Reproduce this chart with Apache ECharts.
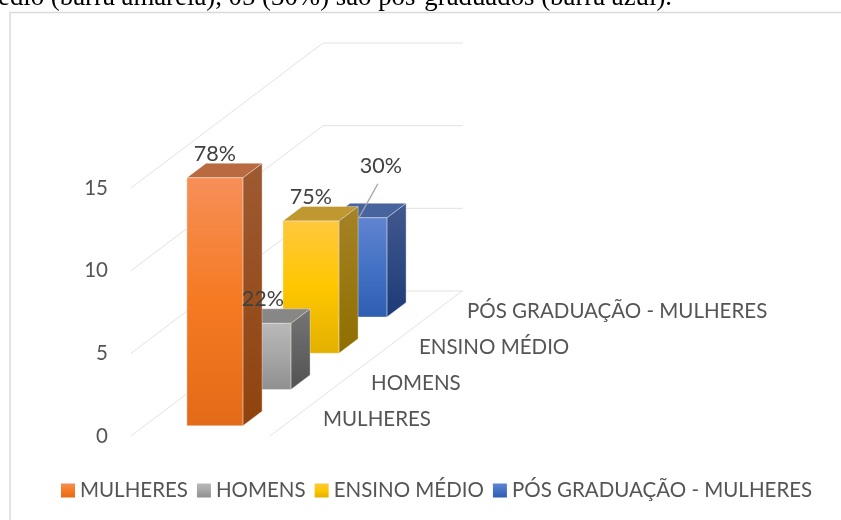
<!DOCTYPE html>
<html>
<head>
<meta charset="utf-8">
<style>html,body{margin:0;padding:0;background:#fff}#c{width:841px;height:520px}</style>
<script src="https://cdn.jsdelivr.net/npm/echarts@6/dist/echarts.min.js"></script>
</head>
<body>
<div id="c"></div>
<script>
const categories = ['MULHERES', 'HOMENS', 'ENSINO MÉDIO', 'PÓS GRADUAÇÃO - MULHERES'];
const barValues = [15, 4, 8, 6];
const barLabels = ['78%', '22%', '75%', '30%'];
const valueTicks = [0, 5, 10, 15];
const caption = 'edio (barra amarela), 05 (30%) são pós-graduados (barra azul).';

const frontStops = [
  ['#F68F58', '#F57A22', '#E36A18'],
  ['#B9B9B9', '#A6A6A6', '#8F8F8F'],
  ['#FFC83E', '#FFC700', '#E2B000'],
  ['#6184D0', '#4472C4', '#2F5DB2']
];
const sideStops = [
  ['#9E5A32', '#8F430E'],
  ['#757575', '#525252'],
  ['#A58326', '#8F6E00'],
  ['#43598F', '#1D3B78']
];
const topColors = ['#B96A41', '#878787', '#BF9832', '#47649F'];

const font = 'Lato, "Open Sans", sans-serif';
const textColor = '#555555';
const RATIO = 145 / 192;        // floor shear: vertical per horizontal depth
const ROW_W = 139;              // width of the floor along the front edge
const BAR_W = 56;
const BAR_DEPTH = 0.4;          // share of a depth band taken by a bar
const BACK_W = 140;             // length of wall lines on the back wall

function grad(stops) {
  return new echarts.graphic.LinearGradient(0, 0, 0, 1,
    stops.map((c, i) => ({ offset: i / (stops.length - 1), color: c })));
}

// Geometry of bar i: the axis gives the depth band and the value scale,
// the oblique projection shifts it back along the floor.
function barGeom(api) {
  const i = api.value(0), v = api.value(1);
  const band = api.size([1, 0])[0];
  const dy = band * RATIO;
  const p0 = api.coord([i, 0]);
  const pv = api.coord([i, v]);
  const d = band * BAR_DEPTH, dh = d * RATIO;
  const rowOffset = (ROW_W - BAR_W) / 2 - band / 2;
  const left = p0[0] + rowOffset + (band - d) / 2;
  const shiftY = dy * (i + 0.5) - dh / 2 - 0.6;
  return { i, band, dy, d, dh, left, base: p0[1] - shiftY, top: pv[1] - shiftY };
}

function renderBar(params, api) {
  const g = barGeom(api);
  const r = g.left + BAR_W;
  const edge = { stroke: 'rgba(255,255,255,0.35)', lineWidth: 1 };
  return {
    type: 'group',
    children: [
      { type: 'polygon', shape: { points: [[r, g.top], [r + g.d, g.top - g.dh], [r + g.d, g.base - g.dh], [r, g.base]] },
        style: Object.assign({ fill: grad(sideStops[g.i]) }, edge) },
      { type: 'polygon', shape: { points: [[g.left, g.top], [g.left + g.d, g.top - g.dh], [r + g.d, g.top - g.dh], [r, g.top]] },
        style: Object.assign({ fill: topColors[g.i] }, edge) },
      { type: 'rect', shape: { x: g.left, y: g.top, width: BAR_W, height: g.base - g.top },
        style: Object.assign({ fill: grad(frontStops[g.i]) }, edge) }
    ]
  };
}

function renderWall(params, api) {
  const v = api.value(0);
  const cs = params.coordSys;
  const y = api.coord([0, v])[1];
  const depthX = cs.width, depthY = cs.width * RATIO;
  const line = { stroke: '#E2E2E2', lineWidth: 1, fill: null };
  const children = [{
    type: 'polyline',
    shape: { points: [[cs.x, y], [cs.x + depthX, y - depthY], [cs.x + depthX + BACK_W, y - depthY]] },
    style: line
  }];
  if (v === 0) {
    children.push({
      type: 'line',
      shape: { x1: cs.x + ROW_W, y1: y, x2: cs.x + ROW_W + depthX, y2: y - depthY },
      style: line
    });
  }
  return { type: 'group', children };
}

function renderCategoryLabel(params, api) {
  const i = api.value(0);
  const cs = params.coordSys;
  const band = api.size([1, 0])[0];
  const y0 = api.coord([i, 0])[1];
  return {
    type: 'text',
    style: {
      text: categories[i],
      x: cs.x + ROW_W + band * (i + 0.5) + 29,
      y: y0 - band * RATIO * (i + 0.5) + 2,
      fill: textColor, font: '20.5px ' + font, align: 'left', verticalAlign: 'middle'
    }
  };
}

function renderValueLabel(params, api) {
  const g = barGeom(api);
  const cx = g.left + BAR_W / 2;
  const callout = g.i === 3;
  const x = cx + (callout ? 22 : 0);
  const y = g.top - (callout ? 52 : 24);
  const children = [{
    type: 'text',
    style: { text: barLabels[g.i], x, y, fill: '#404040', font: '21.5px ' + font, align: 'center', verticalAlign: 'middle' }
  }];
  if (callout) {
    children.push({
      type: 'line',
      shape: { x1: x - 3, y1: y + 18, x2: cx, y2: g.top },
      style: { stroke: '#A6A6A6', lineWidth: 1.4 }
    });
  }
  return { type: 'group', children };
}

const barSeries = categories.map((name, i) => ({
  type: 'custom',
  name,
  coordinateSystem: 'cartesian2d',
  z: 10 - i,
  clip: false,
  silent: true,
  itemStyle: { color: grad(frontStops[i]) },
  renderItem: renderBar,
  encode: { x: 0, y: 1 },
  data: [[i, barValues[i]]]
}));

const chart = echarts.init(document.getElementById('c'), null, { renderer: 'canvas' });
chart.setOption({
  animation: false,
  backgroundColor: '#fff',
  textStyle: { fontFamily: font },
  graphic: [
    { type: 'text', z: -3, left: -2, top: -16,
      style: { text: caption, font: '26.8px "Liberation Serif", serif', fill: '#000' } },
    { type: 'rect', z: -2, shape: { x: 10, y: 12.5, width: 840, height: 520 },
      style: { fill: '#fff', stroke: '#D9D9D9', lineWidth: 1.5 } }
  ],
  grid: { left: 131, top: 188, width: 192, height: 248, containLabel: false },
  xAxis: { type: 'category', data: categories, show: false },
  yAxis: {
    type: 'value', min: 0, max: 15, interval: 5,
    axisLine: { show: false }, axisTick: { show: false }, splitLine: { show: false },
    axisLabel: { margin: 23, fontSize: 20.5, color: textColor, fontFamily: font, padding: [6, 0, 0, 0] }
  },
  legend: {
    data: categories,
    left: 56, top: 475,
    itemWidth: 14, itemHeight: 14, itemGap: 9,
    icon: 'rect',
    textStyle: { fontSize: 20.5, color: textColor, fontFamily: font },
    selectedMode: false
  },
  series: [
    {
      type: 'custom', coordinateSystem: 'cartesian2d', z: 1, clip: false, silent: true,
      renderItem: renderWall, encode: { y: 0 },
      data: valueTicks.map(v => [v])
    },
    ...barSeries,
    {
      type: 'custom', coordinateSystem: 'cartesian2d', z: 20, clip: false, silent: true,
      renderItem: renderValueLabel, encode: { x: 0, y: 1 },
      data: barValues.map((v, i) => [i, v])
    },
    {
      type: 'custom', coordinateSystem: 'cartesian2d', z: 20, clip: false, silent: true,
      renderItem: renderCategoryLabel, encode: { x: 0 },
      data: categories.map((c, i) => [i])
    }
  ]
});
</script>
</body>
</html>
